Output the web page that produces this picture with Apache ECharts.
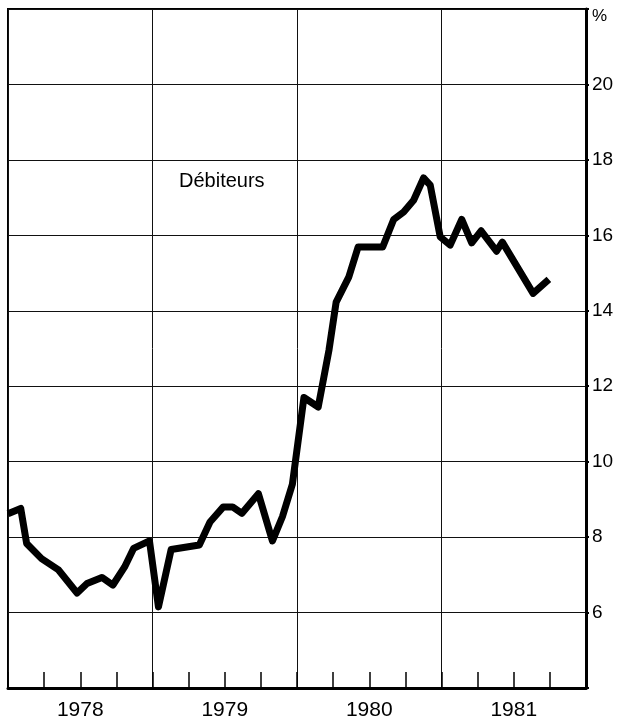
<!DOCTYPE html>
<html>
<head>
<meta charset="utf-8">
<script src="https://cdn.jsdelivr.net/npm/echarts@6/dist/echarts.min.js"></script>
<style>html,body{margin:0;padding:0;background:#fff;}#c{width:630px;height:722px;}</style>
</head>
<body>
<div id="c"></div>
<script>
const years = ['1978', '1979', '1980', '1981'];
const times = [1978.0, 1978.088, 1978.129, 1978.232, 1978.347, 1978.478, 1978.547, 1978.650, 1978.726, 1978.807, 1978.869, 1978.979,
  1979.041, 1979.129, 1979.324, 1979.398, 1979.490, 1979.554, 1979.619, 1979.733, 1979.830, 1979.899, 1979.968,
  1980.048, 1980.147, 1980.221, 1980.271, 1980.359, 1980.423, 1980.593, 1980.669, 1980.738, 1980.807, 1980.876, 1980.922, 1980.991,
  1981.060, 1981.140, 1981.209, 1981.274, 1981.381, 1981.421, 1981.634, 1981.743];
const debiteurs = [8.62, 8.76, 7.83, 7.43, 7.14, 6.52, 6.77, 6.93, 6.73, 7.21, 7.70, 7.90,
  6.15, 7.67, 7.79, 8.40, 8.80, 8.80, 8.63, 9.15, 7.90, 8.54, 9.40,
  11.70, 11.45, 12.95, 14.23, 14.90, 15.69, 15.69, 16.42, 16.62, 16.93, 17.52, 17.33, 15.96,
  15.74, 16.42, 15.80, 16.12, 15.58, 15.82, 14.46, 14.83];
const yTicks = [6, 8, 10, 12, 14, 16, 18, 20];
const seriesLabel = 'Débiteurs';

const chart = echarts.init(document.getElementById('c'));
const font = '"Liberation Sans", Arial, Helvetica, sans-serif';
chart.setOption({
  animation: false,
  grid: { left: 8, right: 44, top: 9, bottom: 34, show: true, borderColor: '#000', borderWidth: 2 },
  xAxis: [
    {
      type: 'value', min: 1978, max: 1982, interval: 0.25, position: 'bottom',
      axisLine: { show: true, lineStyle: { color: '#000', width: 3 } },
      axisTick: { show: true, inside: true, length: 16, lineStyle: { color: '#000', width: 1.5 } },
      axisLabel: { show: false },
      splitLine: { show: false }
    },
    {
      type: 'category', data: years, boundaryGap: true, position: 'bottom',
      axisLine: { show: false },
      axisTick: { show: false },
      axisLabel: { show: true, color: '#000', fontSize: 21, fontFamily: font, margin: 12 },
      splitLine: { show: true, lineStyle: { color: '#111', width: 1 } }
    }
  ],
  yAxis: {
    type: 'value', min: 4, max: 22, interval: 2, position: 'right',
    axisLine: { show: true, lineStyle: { color: '#000', width: 3 } },
    axisTick: { show: true, length: 3, lineStyle: { color: '#000', width: 2 } },
    axisLabel: {
      color: '#000', fontSize: 19, fontFamily: font, margin: 6,
      formatter: function (v) { return yTicks.indexOf(v) >= 0 ? String(v) : ''; }
    },
    splitLine: { show: true, lineStyle: { color: '#111', width: 1 } }
  },
  graphic: [
    { type: 'text', left: 592, top: 8, style: { text: '%', fontSize: 17, fontFamily: font, fill: '#000' } },
    { type: 'text', left: 179, top: 171, style: { text: seriesLabel, fontSize: 20, fontFamily: font, fill: '#000' } }
  ],
  series: [{
    type: 'line', xAxisIndex: 0, name: seriesLabel,
    data: times.map((t, i) => [t, debiteurs[i]]),
    symbol: 'none',
    lineStyle: { color: '#000', width: 7, join: 'round', cap: 'butt' }
  }]
});
</script>
</body>
</html>
